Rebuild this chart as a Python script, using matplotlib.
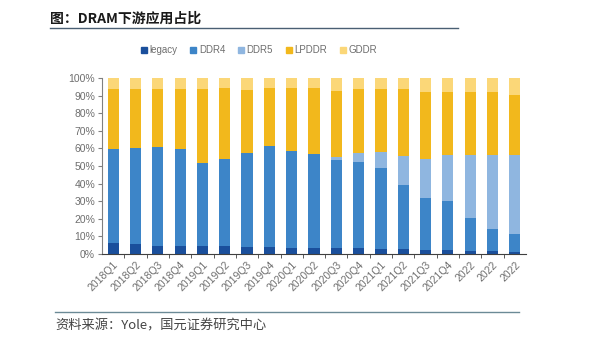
import numpy as np
import matplotlib
import matplotlib.pyplot as plt
from matplotlib.lines import Line2D

matplotlib.use('Agg')

# Categories along the x axis
quarters = ['2018Q1', '2018Q2', '2018Q3', '2018Q4',
            '2019Q1', '2019Q2', '2019Q3', '2019Q4',
            '2020Q1', '2020Q2', '2020Q3', '2020Q4',
            '2021Q1', '2021Q2', '2021Q3', '2021Q4',
            '2022', '2022', '2022']

# Shares in percent
legacy = [6.4, 5.9, 4.7, 4.7, 4.7, 4.7, 4.1, 4.1, 3.6, 3.6,
          3.6, 3.6, 2.8, 2.8, 2.3, 2.3, 1.7, 1.7, 1.1]
ddr4 = [53.0, 54.4, 56.2, 54.7, 46.9, 49.4, 53.4, 57.5, 55.2, 53.4,
        49.9, 48.6, 45.8, 36.2, 29.5, 27.8, 18.7, 12.7, 10.4]
ddr5 = [0, 0, 0, 0, 0, 0, 0, 0, 0, 0,
        1.5, 5.3, 9.3, 16.4, 22.1, 26.4, 35.8, 42.1, 45.0]
lpddr = [34.6, 33.7, 33.1, 34.6, 42.4, 40.4, 35.9, 32.9, 35.7, 37.1,
         37.5, 36.1, 35.7, 38.2, 38.4, 35.8, 36.1, 35.4, 34.1]
gddr = [100 - a - b - c - d for a, b, c, d in zip(legacy, ddr4, ddr5, lpddr)]

series_names = ['legacy', 'DDR4', 'DDR5', 'LPDDR', 'GDDR']
series_values = [legacy, ddr4, ddr5, lpddr, gddr]
series_colors = ['#1a4f9c', '#3d85c8', '#8fb6e0', '#f2b81c', '#fbd778']

cjk = ['Noto Sans CJK SC', 'DejaVu Sans']
latin = ['Liberation Sans', 'DejaVu Sans']
grey = '#6e6e6e'

fig = plt.figure(figsize=(6.10, 3.46), dpi=100)
ax = fig.add_axes([102 / 610, 1 - 254 / 346, 424 / 610, 176 / 346])

x = np.arange(len(quarters))
bottom = np.zeros(len(quarters))
for name, vals, color in zip(series_names, series_values, series_colors):
    vals = np.array(vals)
    ax.bar(x, vals, 0.5, bottom=bottom, color=color, label=name)
    bottom += vals

ax.set_xlim(-0.5, len(quarters) - 0.5)
ax.set_ylim(0, 100)
ax.set_yticks(np.arange(0, 101, 10))
ax.set_yticklabels([f'{v}%' for v in range(0, 101, 10)],
                   family=latin, fontsize=7.5, color=grey)
ax.tick_params(axis='y', length=3, color='#808080', pad=2)

# labels under bars, tick marks between bars
ax.set_xticks(x)
ax.set_xticklabels(quarters, rotation=45, ha='right', rotation_mode='anchor',
                   family=latin, fontsize=7.5, color=grey)
ax.tick_params(axis='x', length=0, pad=4)
ax.set_xticks(x[:-1] + 0.5, minor=True)
ax.tick_params(axis='x', which='minor', length=3, color='#404040')

for side in ('top', 'right'):
    ax.spines[side].set_visible(False)
ax.spines['left'].set_color('#808080')
ax.spines['bottom'].set_color('#404040')

# legend with small square markers
handles = [Line2D([], [], marker='s', linestyle='', markersize=4.5,
                  markerfacecolor=c, markeredgecolor=c)
           for c in series_colors]
fig.legend(handles, series_names, loc='center', bbox_to_anchor=(258 / 610, 1 - 50 / 346),
           ncol=5, frameon=False, handletextpad=0.1, columnspacing=1.1,
           handlelength=1.0, prop={'family': latin, 'size': 7})
for t in fig.legends[0].get_texts():
    t.set_color(grey)

# title and footer
fig.text(50 / 610, 1 - 19 / 346, '图：DRAM下游应用占比', family=cjk, fontsize=10,
         fontweight='heavy', color='#1a1a1a', va='center')
fig.add_artist(Line2D([50 / 610, 458 / 610], [1 - 28 / 346] * 2, color='#4a5f73', lw=1.0))
fig.add_artist(Line2D([55 / 610, 519 / 610], [1 - 312 / 346] * 2, color='#6b8a96', lw=1.0))
fig.text(55 / 610, 1 - 326 / 346, '资料来源：Yole，国元证券研究中心', family=cjk, fontsize=9.5,
         color='#444444', va='center')

fig.savefig('out.png', dpi=100)
